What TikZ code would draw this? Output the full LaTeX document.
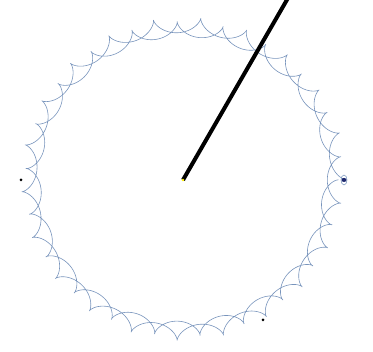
\documentclass[tikz,border=0pt]{standalone}
\usepackage{tikz}
\usetikzlibrary{calc}

\definecolor{orbitblue}{RGB}{120,148,188}
\definecolor{planetblue}{RGB}{30,40,110}

\begin{document}
\begin{tikzpicture}[
  x=1pt, y=-1pt,
  orbit/.style={draw=orbitblue, line width=0.6pt, line join=round},
  arm/.style={line width=4pt, black},
  marker/.style={circle, fill=black, inner sep=0pt, minimum size=3pt}
]
\useasboundingbox (0,0) rectangle (373,352);

\coordinate (sun) at (183,180);
\coordinate (tip) at (288,-2);

% path of the moon: 43 loops over two revolutions
\draw[orbit] plot[domain=0:43, samples=2400, variable=\s]
  ({183 + (156-0.19*\s)*cos(16.7442*\s) + 7.6*cos(16.7442*\s - 360*mod(\s,1))},
   {180 - (156-0.19*\s)*sin(16.7442*\s) - 7.6*sin(16.7442*\s - 360*mod(\s,1))});

\draw[arm] (sun) -- (tip);
\fill[yellow] (sun) circle (1.3);

\node[marker] (m1) at (21,180) {};
\node[marker] (m2) at (263,320) {};

% planet
\draw[orbitblue, line width=0.5pt] (344,180) ellipse (3 and 5);
\fill[planetblue] (344,180) ellipse (2.5 and 2);
\end{tikzpicture}
\end{document}
